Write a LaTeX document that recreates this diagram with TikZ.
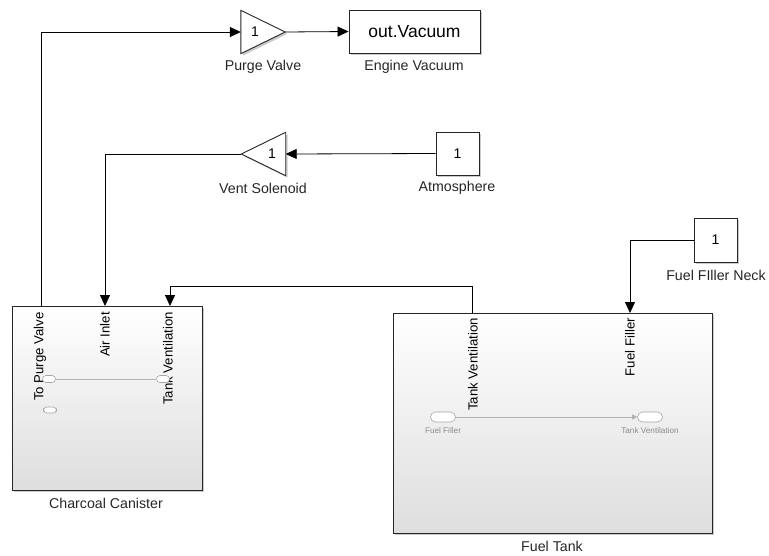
\documentclass[tikz,border=0pt]{standalone}
\usepackage{fontspec}
\setmainfont{Liberation Sans}
\usetikzlibrary{shadows,arrows.meta}
\begin{document}
\begin{tikzpicture}[x=1pt,y=-1pt,
  shad/.style={drop shadow={shadow xshift=2pt,shadow yshift=-2pt,fill=black!45,opacity=0.45}},
  blk/.style={draw=black!85, line width=0.9pt, fill=white, inner sep=0, shad},
  sub/.style={draw=black!85, line width=1pt, inner sep=0, top color=white, bottom color=black!13, shad},
  gainbox/.style={inner sep=0, minimum width=44, minimum height=43},
  tri/.style={draw=black!85, line width=0.9pt, fill=white},
  wire/.style={draw=black, line width=0.8pt, -{Triangle[length=11pt,width=10pt]}},
  lbl/.style={font=\fontsize{14.2}{16}\selectfont, text=black!85},
  num/.style={font=\fontsize{14}{16}\selectfont},
  portlbl/.style={font=\fontsize{13.2}{15}\selectfont, rotate=90, anchor=east, inner sep=0},
  oval/.style={draw=black!35, line width=0.6pt, fill=white, rounded corners=3.5pt, inner sep=0},
  tiny/.style={font=\fontsize{8.2}{9}\selectfont, text=black!45},
  inwire/.style={draw=black!30, line width=0.8pt}
]
\useasboundingbox (0,0) rectangle (769,555);

% subsystem blocks
\node[sub, minimum width=190, minimum height=184] (cc) at (107,398) {};
\node[lbl] (cclbl) at (106,503) {Charcoal Canister};
\node[sub, minimum width=319, minimum height=220] (ft) at (552.5,423) {};
\node[lbl] (ftlbl) at (552,546) {Fuel Tank};

% port coordinates
\coordinate (ccp1) at (41,306);
\coordinate (ccp2) at (105,306);
\coordinate (ccp3) at (170,306);
\coordinate (ftp1) at (472,313);
\coordinate (ftp2) at (630,313);
\coordinate (bend) at (472,286);

% port labels
\node[portlbl] (l1) at (40,312) {To Purge Valve};
\node[portlbl] (l2) at (105,312) {Air Inlet};
\node[portlbl] (l3) at (168,312) {Tank Ventilation};
\node[portlbl] (l4) at (473,318) {Tank Ventilation};
\node[portlbl] (l5) at (630,318) {Fuel Filler};

% internals of canister
\node[oval, minimum width=13, minimum height=7] (o1) at (49,379) {};
\node[oval, minimum width=13, minimum height=7] (o2) at (163,379) {};
\node[oval, minimum width=13, minimum height=6] (o3) at (50,410) {};
\draw[inwire] (o1) -- (o2);

% internals of fuel tank
\node[oval, minimum width=25, minimum height=10, rounded corners=5pt] (o4) at (443,417) {};
\node[oval, minimum width=25, minimum height=10, rounded corners=5pt] (o5) at (650,417) {};
\draw[inwire, -{Triangle[length=5pt,width=5pt]}] (o4) -- (o5);
\node[tiny] (t4) at (443,431) {Fuel Filler};
\node[tiny] (t5) at (650,431) {Tank Ventilation};

% gains
\node[gainbox] (pv) at (263,32) {};
\fill[black!45, opacity=0.45] ([shift={(2,2)}]pv.north west) -- ([shift={(2,2)}]pv.east) -- ([shift={(2,2)}]pv.south west) -- cycle;
\draw[tri] (pv.north west) -- (pv.east) -- (pv.south west) -- cycle;
\node[num] (pv1) at (255,32) {1};
\node[lbl] (pvl) at (263,67) {Purge Valve};

\node[gainbox] (vs) at (263.5,154) {};
\fill[black!45, opacity=0.45] ([shift={(2,2)}]vs.north east) -- ([shift={(2,2)}]vs.west) -- ([shift={(2,2)}]vs.south east) -- cycle;
\draw[tri] (vs.north east) -- (vs.west) -- (vs.south east) -- cycle;
\node[num] (vs1) at (272,154) {1};
\node[lbl] (vsl) at (263,188) {Vent Solenoid};

% boxes
\node[blk, minimum width=131, minimum height=43, font=\fontsize{17.5}{19}\selectfont] (ev) at (414.5,31.5) {out.Vacuum};
\node[lbl] (evl) at (414,67) {Engine Vacuum};
\node[blk, minimum width=43, minimum height=43, num] (atm) at (457.5,153.5) {1};
\node[lbl] (atml) at (457,188) {Atmosphere};
\node[blk, minimum width=43, minimum height=44, num] (ffn) at (715.5,240) {1};
\node[lbl] (ffnl) at (716,275) {Fuel FIller Neck};

% connectors
\draw[wire] (ccp1) |- (pv.west);
\draw[wire] (pv.east) -- (ev.west);
\draw[wire] (atm.west) -- (vs.east);
\draw[wire] (vs.west) -| (ccp2);
\draw[wire] (ftp1) -- (bend) -| (ccp3);
\draw[wire] (ffn.west) -| (ftp2);
\end{tikzpicture}
\end{document}
